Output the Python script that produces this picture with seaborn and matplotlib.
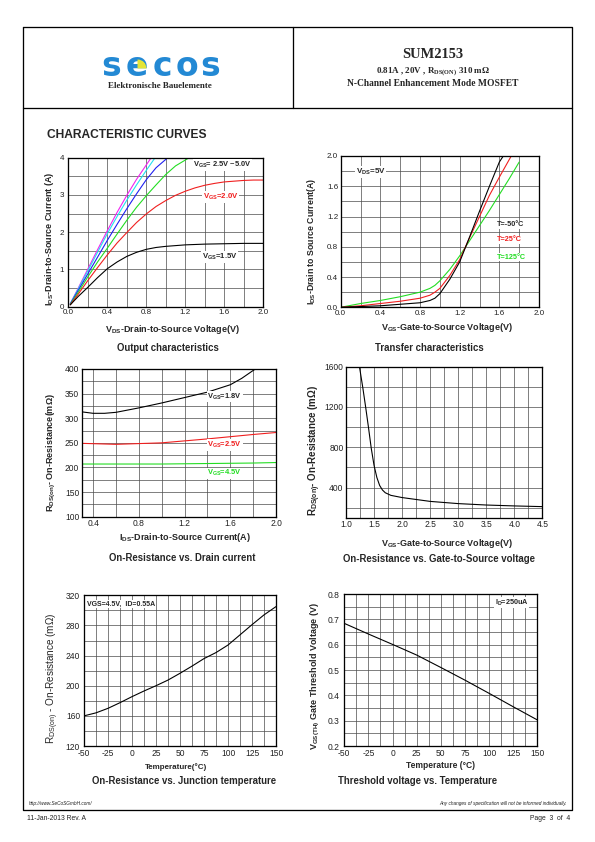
import matplotlib
matplotlib.use("Agg")
import matplotlib.pyplot as plt
import seaborn as sns
from matplotlib.ticker import MultipleLocator, FormatStrFormatter
from matplotlib.patches import Wedge

# ---------------- data ----------------
# Output characteristics (VDS in V, ID in A)
vds_15 = [0.02, 0.1, 0.2, 0.3, 0.4, 0.5, 0.6, 0.7, 0.8, 0.9, 1.0, 1.2, 1.4, 1.6, 1.8, 2.0]
id_15 = [0.05, 0.27, 0.52, 0.78, 1.02, 1.20, 1.35, 1.46, 1.54, 1.59, 1.62, 1.66, 1.68, 1.69, 1.70, 1.70]
vds_20 = [0.02, 0.1, 0.2, 0.3, 0.4, 0.5, 0.6, 0.7, 0.8, 0.9, 1.0, 1.1, 1.2, 1.3, 1.4, 1.5, 1.6, 1.7, 1.8, 1.9, 2.0]
id_20 = [0.05, 0.33, 0.70, 1.05, 1.39, 1.71, 1.99, 2.26, 2.49, 2.69, 2.85, 2.99, 3.10, 3.19, 3.26, 3.31, 3.35, 3.37, 3.39, 3.40, 3.40]
vds_25 = [0.02, 0.1, 0.2, 0.3, 0.4, 0.5, 0.6, 0.7, 0.8, 0.9, 1.0, 1.1, 1.24]
id_25 = [0.06, 0.38, 0.80, 1.20, 1.57, 1.95, 2.32, 2.67, 2.98, 3.27, 3.55, 3.78, 4.0]
vds_30 = [0.02, 0.1, 0.2, 0.3, 0.4, 0.5, 0.6, 0.7, 0.8, 0.9, 1.02]
id_30 = [0.07, 0.43, 0.88, 1.33, 1.78, 2.21, 2.63, 3.03, 3.41, 3.73, 4.0]
vds_40 = [0.02, 0.1, 0.2, 0.3, 0.4, 0.5, 0.6, 0.7, 0.8, 0.89]
id_40 = [0.08, 0.47, 0.96, 1.46, 1.96, 2.42, 2.86, 3.27, 3.66, 4.0]
vds_50 = [0.02, 0.1, 0.2, 0.3, 0.4, 0.5, 0.6, 0.7, 0.85]
id_50 = [0.08, 0.49, 1.01, 1.53, 2.04, 2.53, 2.99, 3.42, 4.0]

# Transfer characteristics (VGS in V, ID in A)
vgs_m50 = [0.0, 0.2, 0.4, 0.6, 0.8, 0.9, 0.95, 1.0, 1.1, 1.2, 1.3, 1.4, 1.5, 1.6, 1.64]
id_m50 = [0.0, 0.01, 0.02, 0.04, 0.06, 0.09, 0.12, 0.18, 0.37, 0.60, 0.93, 1.27, 1.60, 1.92, 2.0]
vgs_25 = [0.0, 0.2, 0.4, 0.6, 0.8, 0.9, 0.95, 1.0, 1.1, 1.2, 1.3, 1.4, 1.5, 1.6, 1.72]
id_t25 = [0.0, 0.02, 0.05, 0.08, 0.12, 0.16, 0.20, 0.25, 0.42, 0.63, 0.92, 1.20, 1.48, 1.72, 2.0]
vgs_125 = [0.0, 0.2, 0.4, 0.6, 0.8, 0.9, 0.95, 1.0, 1.1, 1.2, 1.3, 1.4, 1.5, 1.6, 1.7, 1.8]
id_t125 = [0.0, 0.05, 0.09, 0.14, 0.20, 0.25, 0.29, 0.35, 0.50, 0.68, 0.88, 1.08, 1.28, 1.49, 1.70, 1.92]

# On-resistance vs drain current (ID in A, R in mOhm)
ids_18 = [0.3, 0.4, 0.5, 0.6, 0.8, 1.0, 1.2, 1.4, 1.6, 1.7, 1.8, 1.82]
r_18 = [313, 310, 310, 312, 321, 331, 342, 353, 368, 381, 397, 400]
ids_lo = [0.3, 0.6, 1.0, 1.4, 1.8, 2.0]
r_25 = [249, 247, 250, 258, 267, 271]
r_45 = [207, 207, 207, 208, 209, 210]

# On-resistance vs VGS
vgs_r = [1.24, 1.3, 1.35, 1.4, 1.45, 1.5, 1.55, 1.6, 1.65, 1.7, 1.8, 2.0, 2.5, 3.0, 3.5, 4.0, 4.5]
r_vgs = [1600, 1390, 1200, 1000, 790, 620, 500, 420, 375, 348, 322, 300, 262, 240, 226, 217, 210]

# On-resistance vs junction temperature
temp_r = [-50, -37.5, -25, -12.5, 0, 12.5, 25, 37.5, 50, 62.5, 75, 87.5, 100, 112.5, 125, 137.5, 150]
r_temp = [160, 164, 170, 177.5, 185.5, 193, 200, 207.5, 216.5, 226, 236, 244, 254, 267.5, 281, 294, 305]

# Threshold voltage vs temperature
temp_v = [-50, -25, 0, 25, 50, 75, 100, 125, 150]
vth = [0.684, 0.642, 0.601, 0.559, 0.510, 0.460, 0.408, 0.355, 0.303]

# ---------------- style ----------------
sns.set_theme(style="white")
plt.rcParams["font.family"] = ["Liberation Sans", "DejaVu Sans"]
plt.rcParams["mathtext.fontset"] = "custom"
plt.rcParams["mathtext.rm"] = "Liberation Sans"
plt.rcParams["mathtext.it"] = "Liberation Sans:italic"
plt.rcParams["mathtext.bf"] = "Liberation Sans:bold"
plt.rcParams["mathtext.sf"] = "Liberation Serif:bold"

W, H = 595, 842
fig = plt.figure(figsize=(W / 72, H / 72), dpi=72)
fig.patch.set_facecolor("white")

# page overlay in pixel coordinates
pg = fig.add_axes([0, 0, 1, 1])
pg.set_xlim(0, W)
pg.set_ylim(H, 0)
pg.axis("off")

K = "black"
pg.plot([23, 572, 572, 23, 23], [27, 27, 810, 810, 27], color=K, lw=1.3)
pg.plot([23, 572], [108, 108], color=K, lw=1.3)
pg.plot([293, 293], [27, 108], color=K, lw=1.3)

# logo
for ch, cx in zip("secos", [111, 136.5, 162, 187, 210]):
    pg.text(cx, 66, ch, fontsize=33, fontweight="heavy", color="#2389d4",
            family="DejaVu Sans", ha="center", va="center")
pg.add_patch(Wedge((137.5, 68.5), 9, 270, 360, facecolor="#e4e436", edgecolor="none", zorder=5))
pg.text(160, 86, "Elektronische Bauelemente", fontsize=9, fontweight="bold",
        family="Liberation Serif", ha="center", va="center")

pg.text(433, 55, "SUM2153", fontsize=14.5, fontweight="bold", family="Liberation Serif",
        ha="center", va="center")
pg.text(433, 72, r"0.81A , 20V , R$_{\mathsf{DS(ON)}}$ 310 mΩ", fontsize=9, fontweight="bold",
        family="Liberation Serif", ha="center", va="center")
pg.text(433, 83, "N-Channel Enhancement Mode MOSFET", fontsize=9.5, fontweight="bold",
        family="Liberation Serif", ha="center", va="center")

pg.text(47, 135, "CHARACTERISTIC CURVES", fontsize=12, fontweight="bold", ha="left", va="center")

pg.text(29, 803, "http://www.SeCoSGmbH.com/", fontsize=4.8, style="italic", ha="left", va="center", color="#222")
pg.text(567, 803, "Any changes of specification will not be informed individually.", fontsize=4.8,
        style="italic", ha="right", va="center", color="#222")
pg.text(27, 818, "11-Jan-2013 Rev. A", fontsize=6.8, ha="left", va="center", color="#222")
pg.text(570, 818, "Page  3  of  4", fontsize=6.8, ha="right", va="center", color="#222")


def add_ax(l, t, r, b):
    return fig.add_axes([l / W, 1 - b / H, (r - l) / W, (b - t) / H])


def style(ax, xlim, ylim, xmaj, xmin, ymaj, ymin, xfmt, yfmt, fs=8, ypad=2.5):
    ax.set_xlim(*xlim)
    ax.set_ylim(*ylim)
    ax.xaxis.set_major_locator(MultipleLocator(xmaj))
    ax.xaxis.set_minor_locator(MultipleLocator(xmin))
    ax.yaxis.set_major_locator(MultipleLocator(ymaj))
    ax.yaxis.set_minor_locator(MultipleLocator(ymin))
    ax.xaxis.set_major_formatter(FormatStrFormatter(xfmt))
    ax.yaxis.set_major_formatter(FormatStrFormatter(yfmt))
    ax.set_axisbelow(True)
    ax.grid(True, which="both", color="0.3", lw=0.7)
    ax.tick_params(axis="x", which="both", length=0, pad=2.5, labelsize=fs, labelcolor="#222")
    ax.tick_params(axis="y", which="both", length=0, pad=ypad, labelsize=fs, labelcolor="#222")
    for s in ax.spines.values():
        s.set_visible(True)
        s.set_color("black")
        s.set_linewidth(1.3)
    ax.set_xlabel("")
    ax.set_ylabel("")


def line(ax, x, y, c):
    sns.lineplot(x=x, y=y, ax=ax, color=c, lw=1.1, sort=False, estimator=None, legend=False)


BOX = dict(facecolor="white", edgecolor="none", pad=0.6)
RED, GRN, BLU, CYA, MAG = "#f01e1e", "#22dd22", "#1e1ef0", "#22e0f0", "#f022f0"

# ---- panel 1: output characteristics
ax1 = add_ax(68.3, 157.7, 263.3, 306.7)
line(ax1, vds_50, id_50, MAG)
line(ax1, vds_40, id_40, CYA)
line(ax1, vds_30, id_30, BLU)
line(ax1, vds_25, id_25, GRN)
line(ax1, vds_20, id_20, RED)
line(ax1, vds_15, id_15, K)
style(ax1, (0, 2), (0, 4), 0.4, 0.2, 1, 0.5, "%.1f", "%d", ypad=4)
ax1.text(1.28, 3.8, r"$\mathbf{V_{GS}}$= 2.5V ~5.0V", fontsize=7.5, fontweight="bold", va="center", bbox=BOX)
ax1.text(1.38, 2.95, r"$\mathbf{V_{GS}}$=2.0V", fontsize=7.8, fontweight="bold", color=RED, va="center", bbox=BOX)
ax1.text(1.37, 1.34, r"$\mathbf{V_{GS}}$=1.5V", fontsize=7.8, fontweight="bold", va="center", bbox=BOX)

# ---- panel 2: transfer characteristics
ax2 = add_ax(340.7, 156, 539, 307.3)
line(ax2, vgs_125, id_t125, GRN)
line(ax2, vgs_25, id_t25, RED)
line(ax2, vgs_m50, id_m50, K)
style(ax2, (0, 2), (0, 2), 0.4, 0.2, 0.4, 0.2, "%.1f", "%.1f")
ax2.text(0.15, 1.79, r"$\mathbf{V_{DS}}$=5V", fontsize=8, fontweight="bold", va="center", bbox=BOX)
ax2.text(1.57, 1.09, "T=-50°C", fontsize=7.3, fontweight="bold", va="center", bbox=BOX)
ax2.text(1.57, 0.89, "T=25°C", fontsize=7.3, fontweight="bold", color=RED, va="center", bbox=BOX)
ax2.text(1.57, 0.66, "T=125°C", fontsize=7.3, fontweight="bold", color=GRN, va="center", bbox=BOX)

# ---- panel 3: Rds vs ID
ax3 = add_ax(81.7, 369, 276, 516.7)
line(ax3, ids_18, r_18, K)
line(ax3, ids_lo, r_25, RED)
line(ax3, ids_lo, r_45, GRN)
style(ax3, (0.3, 2.0), (100, 400), 0.4, 0.2, 50, 25, "%.1f", "%d", fs=8.5)
ax3.text(1.40, 344, r"$\mathbf{V_{GS}}$=1.8V", fontsize=7.5, fontweight="bold", va="center", bbox=BOX)
ax3.text(1.40, 246, r"$\mathbf{V_{GS}}$=2.5V", fontsize=7.5, fontweight="bold", color=RED, va="center", bbox=BOX)
ax3.text(1.40, 188, r"$\mathbf{V_{GS}}$=4.5V", fontsize=7.5, fontweight="bold", color=GRN, va="center", bbox=BOX)

# ---- panel 4: Rds vs VGS
ax4 = add_ax(346, 366.7, 542.3, 517.7)
line(ax4, vgs_r, r_vgs, K)
style(ax4, (1.0, 4.5), (100, 1600), 0.5, 0.25, 400, 200, "%.1f", "%d", fs=8.5)

# ---- panel 5: Rds vs T
ax5 = add_ax(84, 595.3, 276, 746)
line(ax5, temp_r, r_temp, K)
style(ax5, (-50, 150), (120, 320), 25, 12.5, 40, 20, "%d", "%d", fs=8.5, ypad=4)
ax5.text(-47, 308.5, "VGS=4.5V,  ID=0.55A", fontsize=7, fontweight="bold", va="center", bbox=BOX)

# ---- panel 6: Vth vs T
ax6 = add_ax(344.3, 594, 537.3, 746)
line(ax6, temp_v, vth, K)
style(ax6, (-50, 150), (0.2, 0.8), 25, 12.5, 0.1, 0.05, "%d", "%.1f", fs=8.5, ypad=4.5)
ax6.text(106, 0.766, r"$\mathbf{I_{D}}$=250uA", fontsize=7.3, fontweight="bold", va="center", bbox=BOX)

# ---- axis labels and captions (page pixel coordinates)
def lab(x, y, s, rot=0, fs=9, weight="bold"):
    pg.text(x, y, s, fontsize=fs, fontweight=weight, rotation=rot, ha="center", va="center")

TF = 9.6
lab(172.5, 329, r"$\mathbf{V_{DS}}$-Drain-to-Source Voltage(V)")
lab(50, 239, r"$\mathbf{I_{DS}}$-Drain-to-Source Current (A)", rot=90, fs=9)
lab(168, 348, "Output characteristics", fs=TF)

lab(446.7, 328, r"$\mathbf{V_{GS}}$-Gate-to-Source Voltage(V)")
lab(311, 241, r"$\mathbf{I_{DS}}$-Drain to Source Current(A)", rot=90, fs=8.8)
lab(429, 348, "Transfer characteristics", fs=TF)

lab(185, 537, r"$\mathbf{I_{DS}}$-Drain-to-Source Current(A)")
lab(51, 453, r"$\mathbf{R_{DS(on)}}$- On-Resistance(mΩ)", rot=90, fs=9)
lab(182, 558, "On-Resistance vs. Drain current", fs=TF)

lab(446.7, 543, r"$\mathbf{V_{GS}}$-Gate-to-Source Voltage(V)")
lab(315, 450, r"$\mathbf{R_{DS(on)}}$- On-Resistance (mΩ)", rot=90, fs=9.8)
lab(439, 559, "On-Resistance vs. Gate-to-Source voltage", fs=TF)

lab(176, 767, "Temperature(°C)", fs=8)
lab(52.7, 678, r"R$_{\mathrm{DS(on)}}$ - On-Resistance (mΩ)", rot=90, fs=10, weight="normal")
lab(183.7, 781, "On-Resistance vs. Junction temperature", fs=TF)

lab(440, 765, "Temperature (°C)", fs=8.5)
lab(315, 676, r"$\mathbf{V_{GS(TH)}}$ Gate Threshold Voltage (V)", rot=90, fs=9)
lab(418, 780.7, "Threshold voltage vs. Temperature", fs=TF)

fig.savefig("out.png", dpi=72, facecolor="white")
